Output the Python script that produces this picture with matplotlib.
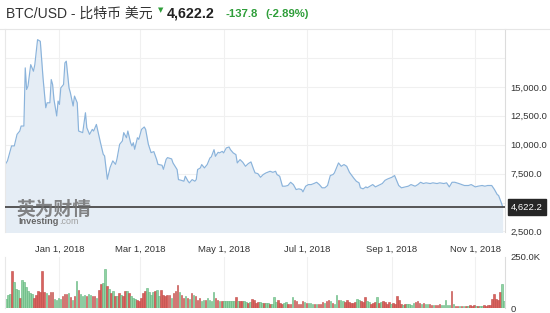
import numpy as np
import pandas as pd
import matplotlib
matplotlib.use("Agg")
import matplotlib.pyplot as plt
import matplotlib.dates as mdates
from matplotlib.lines import Line2D
from matplotlib.ticker import FixedLocator, FuncFormatter
from matplotlib.transforms import blended_transform_factory

# --- dados (BTC/USD, diário, ~1 ano) ---
start = pd.Timestamp("2017-11-21")

price_days = [0, 3, 6, 8, 10, 12, 13, 15, 16, 17, 18, 20, 22, 23, 25, 27, 29, 31, 32, 34,
              35, 36, 37, 39, 40, 41, 42, 44, 45, 46, 48, 49, 51, 52, 54, 55, 58, 60, 61, 63,
              65, 66, 68, 71, 73, 74, 76, 78, 80, 82, 83, 85, 87, 88, 90, 91, 93, 94, 95, 96,
              98, 99, 101, 103, 104, 106, 108, 110, 112, 113, 116, 117, 119, 120, 123, 124, 127, 128, 130, 132,
              133, 135, 136, 138, 140, 141, 142, 144, 145, 147, 149, 151, 152, 154, 155, 157, 158, 160, 161, 163,
              165, 166, 168, 170, 171, 173, 175, 177, 179, 181, 183, 184, 186, 188, 190, 192, 195, 197, 199, 200,
              202, 204, 206, 208, 210, 212, 214, 216, 218, 219, 221, 223, 225, 227, 229, 231, 233, 235, 237, 239,
              241, 242, 244, 245, 247, 249, 251, 253, 256, 258, 260, 261, 263, 265, 266, 268, 270, 272, 274, 277,
              279, 281, 284, 286, 287, 289, 291, 294, 296, 298, 301, 303, 305, 307, 309, 312, 314, 317, 319, 322,
              324, 326, 328, 330, 333, 335, 337, 340, 342, 345, 347, 350, 352, 354, 357, 359, 361, 362, 364, 365]

prices = [8020, 8600, 9890, 9890, 10890, 11180, 11610, 11610, 16640, 14770, 15060, 16920, 16350, 16920, 19080, 18940, 15780, 13190, 13620, 13620,
          15630, 15200, 13910, 12480, 13770, 13480, 14910, 15200, 17070, 17220, 14910, 14480, 13340, 14200, 13620, 11180, 11040, 12760, 11470, 10890,
          11320, 11180, 11750, 10170, 9170, 9030, 7010, 8020, 8600, 8300, 8730, 10030, 10320, 11040, 10600, 11180, 10170, 9890, 10170, 9600,
          10600, 10460, 11320, 11530, 11320, 10030, 9310, 9400, 8730, 8300, 8220, 7870, 8730, 8880, 8770, 8420, 7850, 6980, 6920, 6840,
          7270, 6840, 6700, 6980, 6840, 6980, 7850, 7990, 8280, 7990, 8280, 8850, 8940, 9570, 8990, 9340, 9290, 9420, 9290, 9720,
          9800, 9570, 9290, 9140, 8420, 8710, 8480, 8130, 8360, 8510, 7850, 7560, 7500, 7180, 7420, 7560, 7700, 7610, 7700, 7420,
          7270, 6410, 6410, 6470, 6750, 6550, 6120, 6180, 6120, 5920, 6410, 6550, 6550, 6640, 6750, 6550, 6270, 6270, 6470, 7330,
          7420, 7560, 8130, 8420, 8130, 8280, 8130, 7610, 7130, 6840, 6700, 6270, 6180, 6350, 6270, 6410, 6550, 6350, 6470, 6640,
          6920, 7040, 7180, 7330, 7040, 6470, 6270, 6350, 6410, 6550, 6410, 6550, 6750, 6640, 6700, 6640, 6700, 6640, 6700, 6640,
          6700, 6350, 6750, 6750, 6640, 6550, 6470, 6470, 6550, 6350, 6410, 6470, 6410, 6470, 6470, 6120, 5690, 5610, 4980, 4622.2]

last_price = 4622.2
change = -137.8
change_pct = -2.89

# volume em milhares; g = alta, r = baixa
volumes_k = [44, 65, 69, 183, 126, 93, 90, 49, 139, 126, 101, 82, 74, 69, 49, 65, 82, 77, 180, 77,
             74, 65, 77, 77, 44, 41, 49, 44, 57, 69, 69, 74, 52, 41, 57, 131, 87, 69, 60, 65,
             57, 70, 65, 57, 60, 49, 90, 118, 123, 191, 106, 93, 74, 82, 57, 57, 74, 65, 57, 82,
             82, 74, 57, 49, 44, 41, 36, 49, 74, 82, 98, 77, 65, 77, 82, 90, 57, 90, 65, 57,
             65, 65, 49, 74, 82, 114, 77, 65, 49, 57, 49, 44, 74, 65, 57, 41, 49, 36, 41, 41,
             49, 41, 33, 77, 49, 41, 36, 33, 36, 36, 33, 33, 33, 36, 52, 36, 33, 33, 36, 28,
             25, 28, 44, 41, 25, 28, 28, 25, 25, 25, 25, 21, 21,
             54, 29, 41, 25, 21, 25, 29, 21, 21, 54, 41, 33, 18, 21, 33, 29, 25, 25, 25, 21,
             21, 18, 21, 21, 29, 25, 33, 41, 33, 25, 21, 65, 38, 38, 33, 29, 38, 29, 25, 25,
             29, 46, 38, 34, 29, 54, 33, 29, 21, 25, 29, 54, 25, 29, 34, 29, 21, 29, 18, 25,
             21, 57, 38, 21, 16, 18, 18, 21, 16, 25, 29, 33, 25, 18, 25, 21, 21, 21, 16, 13,
             16, 16, 18, 13, 13, 38, 13, 13, 82, 18, 10, 10, 8, 10, 8, 10, 11, 16, 11, 13,
             11, 11, 10, 11, 13, 10, 16, 16, 46, 70, 46, 38, 78, 119, 33]

vol_dir = ("gggrgggrggggggrrrrrr" "grrrggggrrrgrgrgrggg"
           "rggrrgrrggrgrgrgrgrr" "grgggrrrrrggggrggrrr"
           "rrgrrrgrrgrgrgrrrggr" "ggggrrgrggggggrgrrgg"
           "rgrrrrggrggrggg"
           "rrrggrrgrrrrrgrgggrg" "rrrgrrgrggrggrrrrrrg"
           "grrrggrrrgrgrrrrgrrr" "rrgrggggrrrgrggrrgrr"
           "rgggggrgrrgrgrgrrrgr" "ggrrrrrrrrrg")
vol_dir = vol_dir[:len(volumes_k)].ljust(len(volumes_k), "g")

price_dates = start + pd.to_timedelta(price_days, unit="D")
vol_dates = pd.date_range(start + pd.Timedelta(days=1.9), start + pd.Timedelta(days=366),
                          periods=len(volumes_k))

W, H = 550, 313
fig = plt.figure(figsize=(W / 100, H / 100), dpi=100)
fig.patch.set_facecolor("white")

def fx(px):
    return px / W

def fy(py):
    return 1 - py / H

lat = ["Liberation Sans", "Noto Sans CJK SC", "DejaVu Sans"]
text_col = "#333333"

# --- painel de preço ---
ax = fig.add_axes([fx(5), fy(232), fx(500), 203 / H])
ax.set_facecolor("white")
ax.fill_between(price_dates, prices, 0, color="#e5edf5", zorder=1, linewidth=0)
ax.plot(price_dates, prices, color="#8ab3db", linewidth=0.85, zorder=2)
ax.set_ylim(2450, 20000)
xmin = start + pd.Timedelta(days=1.2)
xmax = start + pd.Timedelta(days=366.7)
ax.set_xlim(xmin, xmax)

yt = [2500, 5000, 7500, 10000, 12500, 15000, 17500]
ax.yaxis.set_major_locator(FixedLocator(yt))
ax.yaxis.set_major_formatter(FuncFormatter(lambda v, p: "" if v > 16000 else f"{v:,.1f}"))
ax.yaxis.tick_right()
month_ticks = [pd.Timestamp(f"2018-{m:02d}-01") for m in (1, 3, 5, 7, 9, 11)]
ax.xaxis.set_major_locator(FixedLocator(mdates.date2num(month_ticks)))
ax.xaxis.set_major_formatter(FuncFormatter(
    lambda v, p: (lambda d: f"{d:%b} {d.day}, {d.year}")(mdates.num2date(v))))
ax.tick_params(axis="both", length=0, labelsize=6.8, labelcolor=text_col)
ax.tick_params(axis="x", pad=9)
ax.tick_params(axis="y", pad=4)
for lbl in ax.get_xticklabels() + ax.get_yticklabels():
    lbl.set_fontfamily(lat)
ax.grid(True, color="#f0f0f0", linewidth=0.8, zorder=0)
ax.set_axisbelow(True)
for s in ("top", "bottom"):
    ax.spines[s].set_visible(False)
ax.spines["left"].set_color("#e8e8e8")
ax.spines["right"].set_color("#dcdcdc")

# linha do último preço e caixa
ax.axhline(last_price, color="#4a4a4a", linewidth=1.3, zorder=4)
tr = blended_transform_factory(ax.transAxes, ax.transData)
ax.text(1.012, last_price, f"{last_price:,.1f}", transform=tr, ha="left", va="center",
        fontsize=6.8, color="white", family=lat, zorder=6, clip_on=False,
        bbox=dict(boxstyle="square,pad=0.35", facecolor="#262626", edgecolor="#262626"))

# marca d'água
fig.text(fx(17), fy(209), "英为财情", fontsize=13.5, fontweight="bold", color="#707070",
         alpha=0.85, family=["Noto Sans CJK SC", "DejaVu Sans"], va="center", ha="left")
inv = fig.text(fx(18), fy(222), "Investing", fontsize=6.6, fontweight="bold", color="#666666",
               family=lat, va="center", ha="left")
fig.canvas.draw()
bb = inv.get_window_extent(fig.canvas.get_renderer())
fig.text(bb.x1 / W + 0.001, fy(222), ".com", fontsize=6.4, color="#a0a0a0", family=lat,
         va="center", ha="left")

# --- painel de volume ---
axv = fig.add_axes([fx(5), fy(308), fx(500), 51 / H])
axv.set_facecolor("white")
face = ["#91d2a3" if c == "g" else "#d9625e" for c in vol_dir]
edge = ["#5fb47c" if c == "g" else "#bf4a47" for c in vol_dir]
axv.bar(vol_dates, [v * 1000 for v in volumes_k], width=1.15, color=face, edgecolor=edge,
        linewidth=0.4, zorder=2)
axv.set_xlim(xmin, xmax)
axv.set_ylim(0, 250000)
axv.yaxis.set_major_locator(FixedLocator([0, 250000]))
axv.yaxis.set_major_formatter(FuncFormatter(lambda v, p: "0" if v == 0 else f"{v / 1000:.1f}K"))
axv.yaxis.tick_right()
axv.xaxis.set_major_locator(FixedLocator(mdates.date2num(month_ticks)))
axv.set_xticklabels([])
axv.tick_params(axis="both", length=0, labelsize=6.8, labelcolor=text_col, pad=4)
for lbl in axv.get_yticklabels():
    lbl.set_fontfamily(lat)
axv.grid(True, axis="x", color="#f0f0f0", linewidth=0.8, zorder=0)
axv.set_axisbelow(True)
for s in ("top", "bottom"):
    axv.spines[s].set_visible(False)
axv.spines["left"].set_color("#e8e8e8")
axv.spines["right"].set_color("#dcdcdc")

# --- cabeçalho ---
fig.add_artist(Line2D([0, 1], [fy(28.5), fy(28.5)], color="#e6e6e6", linewidth=0.8))
fig.text(fx(6), fy(14), "BTC/USD - 比特币 美元", fontsize=10, color="#333333",
         family=lat, va="center", ha="left")
fig.text(fx(158), fy(10), "▼", fontsize=5, color="#2f9e3a", family=["DejaVu Sans"],
         va="center", ha="left")
fig.text(fx(167), fy(14), f"{last_price:,.1f}", fontsize=10.3, fontweight="bold",
         color="#222222", family=lat, va="center", ha="left")
fig.text(fx(225), fy(14), f"{change:.1f}", fontsize=8.2, fontweight="bold",
         color="#2f9e3a", family=lat, va="center", ha="left")
fig.text(fx(265), fy(14), f"({change_pct:.2f}%)", fontsize=8.2, fontweight="bold",
         color="#2f9e3a", family=lat, va="center", ha="left")

fig.savefig("out.png", dpi=100)
